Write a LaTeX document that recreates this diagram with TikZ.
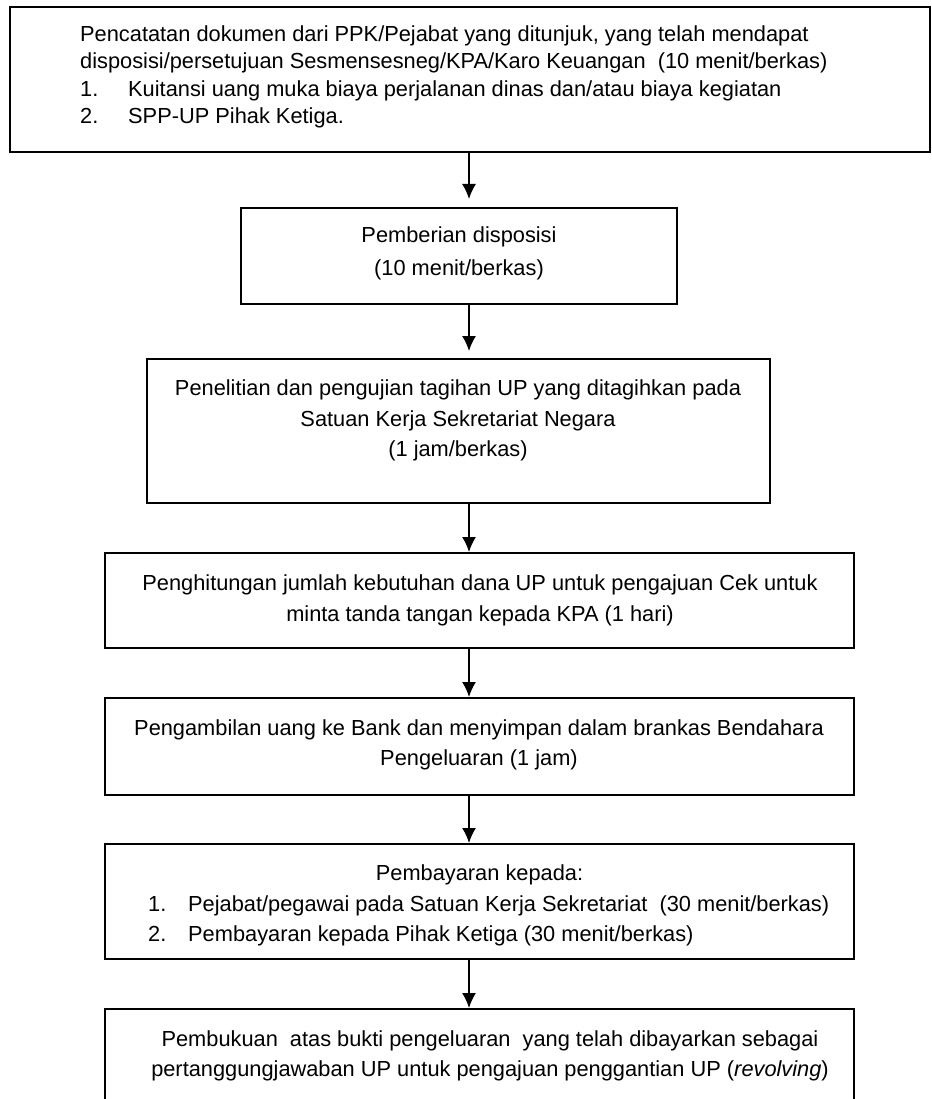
\documentclass[tikz,border=0pt]{standalone}
\usepackage{fontspec}
\setmainfont{Liberation Sans}
\usetikzlibrary{arrows.meta}
\tikzset{
  box/.style={draw, line width=2pt, rectangle, inner sep=0pt},
  txt/.style={inner sep=0pt, font=\fontsize{21.8}{26}\selectfont},
  arr/.style={-{Latex[length=15pt,width=14pt]}, line width=1.5pt},
}
\begin{document}
\begin{tikzpicture}[x=1pt,y=-1pt]
\useasboundingbox[fill=white] (0,0) rectangle (931,1099);
\coordinate (ax) at (469,0);
% boxes
\node[box, minimum width=920pt, minimum height=145pt] (b1) at (470,79.5) {};
\node[box, minimum width=436.5pt, minimum height=96pt] (b2) at (458.75,256) {};
\node[box, minimum width=623.3pt, minimum height=144pt] (b3) at (458.35,431) {};
\node[box, minimum width=749pt, minimum height=95pt] (b4) at (479.5,600.5) {};
\node[box, minimum width=749pt, minimum height=97pt] (b5) at (479.5,746.5) {};
\node[box, minimum width=749pt, minimum height=115pt] (b6) at (479.5,901.5) {};
\node[box, minimum width=749pt, minimum height=97pt] (b7) at (479.5,1057.5) {};
% box 1 text
\node[txt, anchor=base west] (t1a) at (80,41.7) {Pencatatan dokumen dari PPK/Pejabat yang ditunjuk, yang telah mendapat};
\node[txt, anchor=base west] (t1b) at (80,69) {disposisi/persetujuan Sesmensesneg/KPA/Karo Keuangan\ \ (10 menit/berkas)};
\node[txt, anchor=base west] (t1c) at (80,96.5) {1.};
\node[txt, anchor=base west] (t1d) at (128,96.5) {Kuitansi uang muka biaya perjalanan dinas dan/atau biaya kegiatan};
\node[txt, anchor=base west] (t1e) at (80,124) {2.};
\node[txt, anchor=base west] (t1f) at (128,124) {SPP-UP Pihak Ketiga.};
% box 2 text
\node[txt, anchor=base] (t2a) at (459,243) {Pemberian disposisi};
\node[txt, anchor=base] (t2b) at (459,275) {(10 menit/berkas)};
% box 3 text
\node[txt, anchor=base] (t3a) at (458,395) {Penelitian dan pengujian tagihan UP yang ditagihkan pada};
\node[txt, anchor=base] (t3b) at (458,426) {Satuan Kerja Sekretariat Negara};
\node[txt, anchor=base] (t3c) at (458,456) {(1 jam/berkas)};
% box 4 text
\node[txt, anchor=base] (t4a) at (480,590) {Penghitungan jumlah kebutuhan dana UP untuk pengajuan Cek untuk};
\node[txt, anchor=base] (t4b) at (480,621) {minta tanda tangan kepada KPA (1 hari)};
% box 5 text
\node[txt, anchor=base] (t5a) at (479,735) {Pengambilan uang ke Bank dan menyimpan dalam brankas Bendahara};
\node[txt, anchor=base] (t5b) at (479,765) {Pengeluaran (1 jam)};
% box 6 text
\node[txt, anchor=base] (t6a) at (479.5,880) {Pembayaran kepada:};
\node[txt, anchor=base west] (t6b) at (148,911) {1.};
\node[txt, anchor=base west] (t6c) at (188,911) {Pejabat/pegawai pada Satuan Kerja Sekretariat\ \ (30 menit/berkas)};
\node[txt, anchor=base west] (t6d) at (148,941) {2.};
\node[txt, anchor=base west] (t6e) at (188,941) {Pembayaran kepada Pihak Ketiga (30 menit/berkas)};
% box 7 text
\node[txt, anchor=base] (t7a) at (490,1046) {Pembukuan\ \ atas bukti pengeluaran\ \ yang telah dibayarkan sebagai};
\node[txt, anchor=base] (t7b) at (490,1076) {pertanggungjawaban UP untuk pengajuan penggantian UP (\textit{revolving})};
% arrows
\draw[arr, shorten >=8pt] (b1.south -| ax) -- (b2.north -| ax);
\draw[arr, shorten >=7pt] (b2.south -| ax) -- (b3.north -| ax);
\draw[arr] (b3.south -| ax) -- (b4.north -| ax);
\draw[arr] (b4.south -| ax) -- (b5.north -| ax);
\draw[arr] (b5.south -| ax) -- (b6.north -| ax);
\draw[arr] (b6.south -| ax) -- (b7.north -| ax);
\end{tikzpicture}
\end{document}
